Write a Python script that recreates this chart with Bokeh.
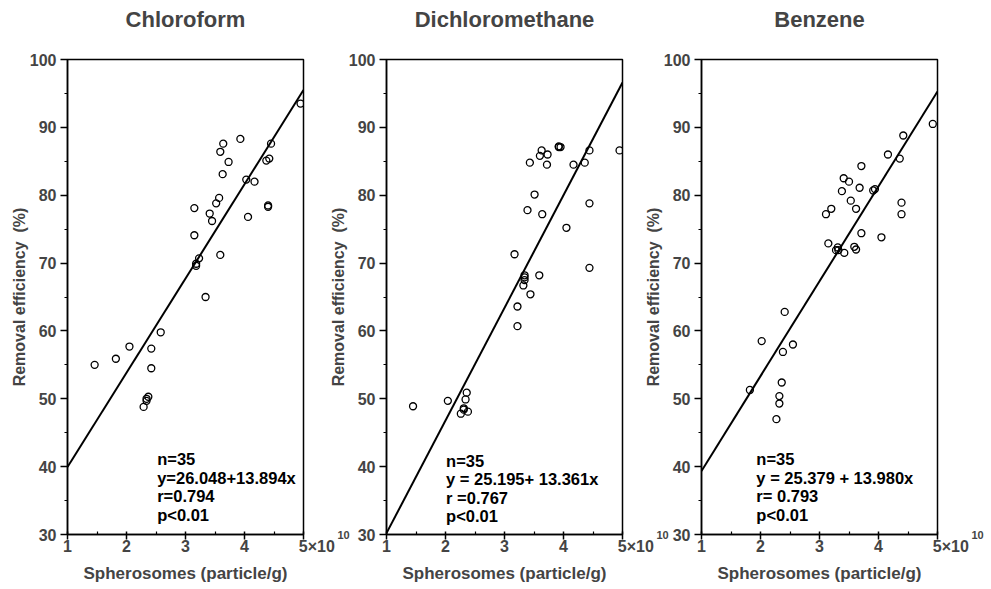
from bokeh.plotting import figure
from bokeh.layouts import row
from bokeh.models import Label, FixedTicker, Range1d, LinearAxis
from bokeh.embed import file_html
from bokeh.resources import INLINE

FONT = "Liberation Sans"

titles = ["Chloroform", "Dichloromethane", "Benzene"]

chloro_x = [1.46, 1.82, 2.05, 2.42, 2.58, 2.42, 2.37, 2.34, 2.29, 2.34,
            3.15, 3.15, 3.18, 3.18, 3.23, 3.34, 3.41, 3.45, 3.52, 3.57,
            3.59, 3.63, 3.59, 3.64, 3.73, 3.93, 4.03, 4.17, 4.06, 4.37,
            4.42, 4.45, 4.40, 4.40, 4.95]
chloro_y = [55.0, 55.9, 57.7, 57.4, 59.8, 54.5, 50.3, 49.7, 48.8, 50.0,
            78.1, 74.1, 69.6, 69.9, 70.7, 65.0, 77.3, 76.2, 78.8, 79.6,
            71.2, 83.1, 86.4, 87.6, 84.9, 88.3, 82.3, 82.0, 76.8, 85.1,
            85.4, 87.6, 78.5, 78.3, 93.5]

dcm_x = [1.45, 2.04, 2.36, 2.34, 2.26, 2.31, 2.38, 2.31,
         3.17, 3.22, 3.22, 3.34, 3.34, 3.32, 3.44, 3.59, 3.34,
         3.39, 3.64, 3.51, 3.43, 3.60, 3.63, 3.73, 3.72, 3.92, 3.95, 3.92,
         4.05, 4.17, 4.36, 4.44, 4.44, 4.44, 4.95]
dcm_y = [48.9, 49.7, 50.9, 49.9, 47.8, 48.4, 48.1, 48.6,
         71.3, 63.6, 60.7, 68.2, 67.5, 66.7, 65.4, 68.2, 67.9,
         77.8, 77.2, 80.1, 84.8, 85.8, 86.6, 86.0, 84.5, 87.1, 87.1, 87.2,
         75.2, 84.5, 84.8, 86.6, 78.8, 69.3, 86.6]

benz_x = [1.82, 2.02, 2.41, 2.55, 2.38, 2.36, 2.32, 2.32, 2.27,
          3.11, 3.20, 3.15, 3.31, 3.32, 3.28, 3.42, 3.41, 3.50, 3.38,
          3.53, 3.62, 3.59, 3.62, 3.71, 3.68, 3.71, 3.91, 3.94, 4.05,
          4.16, 4.36, 4.42, 4.39, 4.39, 4.92]
benz_y = [51.3, 58.5, 62.8, 58.0, 56.9, 52.4, 50.4, 49.3, 47.0,
          77.2, 78.0, 72.9, 72.3, 71.9, 71.9, 71.5, 82.5, 82.0, 80.6,
          79.2, 78.0, 72.4, 72.0, 84.3, 81.1, 74.4, 80.7, 80.9, 73.8,
          86.0, 85.4, 88.8, 78.9, 77.2, 90.5]

# drawn regression lines (intercept, slope)
fit_intercept = [26.05, 13.6, 25.38]
fit_slope = [13.89, 16.6, 13.98]

stats_text = [
    ["n=35", "y=26.048+13.894x", "r=0.794", "p<0.01"],
    ["n=35", "y = 25.195+ 13.361x", "r =0.767", "p<0.01"],
    ["n=35", "y = 25.379 + 13.980x", "r= 0.793", "p<0.01"],
]

x_ticks = [1, 2, 3, 4, 5]
x_minor = [1.5, 2.5, 3.5, 4.5]
x_tick_labels = ["1", "2", "3", "4", "\u00a0" * 6 + "5×10"]
exp_power = "10"
y_ticks = [30, 40, 50, 60, 70, 80, 90, 100]
y_minor = [35, 45, 55, 65, 75, 85, 95]
x_label = "Spherosomes (particle/g)"
y_label = "Removal efficiency\u00a0 (%)"

series = [(chloro_x, chloro_y), (dcm_x, dcm_y), (benz_x, benz_y)]
stats_pos = [(2.52, 41.1), (2.01, 40.9), (1.93, 41.1)]

widths = [355, 355, 357]
margins_left = [0, -36, -40]


def make_panel(i):
    xs, ys = series[i]
    w = widths[i]
    right = w - 67 - 236
    p = figure(width=w, height=585, x_range=Range1d(1, 5), y_range=Range1d(30, 100),
               output_backend="svg", toolbar_location=None,
               min_border_left=67, min_border_right=right,
               min_border_top=59, min_border_bottom=49)
    p.border_fill_color = None
    p.background_fill_color = None
    p.outline_line_color = "black"
    p.outline_line_width = 1.5
    p.xgrid.visible = False
    p.ygrid.visible = False

    p.title.text = titles[i] + "\n\u00a0"
    p.title.align = "center"
    p.title.text_font = FONT
    p.title.text_font_size = "22px"
    p.title.text_font_style = "bold"
    p.title.text_line_height = 1.1
    p.title.standoff = 0

    xa = p.xaxis[0]
    xa.ticker = FixedTicker(ticks=x_ticks, minor_ticks=x_minor)
    xa.major_label_overrides = {t: lab for t, lab in zip(x_ticks, x_tick_labels)}
    xa.major_tick_out = 5
    xa.major_tick_in = 3
    xa.minor_tick_out = 0
    xa.minor_tick_in = 3
    xa.axis_line_width = 1.5
    xa.major_tick_line_width = 1.5
    xa.minor_tick_line_width = 1.2
    xa.major_label_standoff = -2
    xa.major_label_text_font = FONT
    xa.major_label_text_font_size = "16px"
    xa.major_label_text_font_style = "bold"
    xa.axis_label = x_label
    xa.axis_label_text_font = FONT
    xa.axis_label_text_font_size = "17px"
    xa.axis_label_text_font_style = "bold"
    xa.axis_label_standoff = 6

    ya = p.yaxis[0]
    ya.ticker = FixedTicker(ticks=y_ticks, minor_ticks=y_minor)
    ya.major_tick_out = 7
    ya.major_tick_in = 0
    ya.minor_tick_out = 3
    ya.minor_tick_in = 0
    ya.axis_line_width = 1.5
    ya.major_tick_line_width = 1.5
    ya.minor_tick_line_width = 1.2
    ya.major_label_standoff = 4
    ya.major_label_text_font = FONT
    ya.major_label_text_font_size = "16px"
    ya.major_label_text_font_style = "bold"
    ya.axis_label = y_label
    ya.axis_label_text_font = FONT
    ya.axis_label_text_font_size = "16px"
    ya.axis_label_text_font_style = "bold"
    ya.axis_label_standoff = -1

    # exponent "10" of the x scale, shown as the superscript after "5×10"
    ea = LinearAxis(ticker=FixedTicker(ticks=[y_ticks[0]], minor_ticks=[]),
                    major_label_overrides={y_ticks[0]: exp_power})
    ea.axis_line_color = None
    ea.major_tick_line_color = None
    ea.minor_tick_line_color = None
    ea.major_tick_out = 0
    ea.major_tick_in = 0
    ea.major_label_standoff = 34
    ea.major_label_text_font = FONT
    ea.major_label_text_font_size = "11px"
    ea.major_label_text_font_style = "bold"
    p.add_layout(ea, "right")

    fx = [x_ticks[0], x_ticks[-1]]
    fy = [fit_intercept[i] + fit_slope[i] * v for v in fx]
    p.line(fx, fy, line_color="black", line_width=2)
    p.scatter(xs, ys, marker="circle", size=7, fill_color=None,
              line_color="black", line_width=1.3)

    sx, sy = stats_pos[i]
    for k, t in enumerate(stats_text[i]):
        p.add_layout(Label(x=sx, y=sy, text=t, y_offset=-18.5 * k,
                           text_font=FONT, text_font_size="16.5px",
                           text_font_style="bold", text_baseline="middle",
                           text_color="black"))
    if margins_left[i]:
        p.margin = (0, 0, 0, margins_left[i])
    return p


panels = [make_panel(i) for i in range(3)]
layout = row(*panels)

open("out.html", "w").write(file_html(layout, INLINE))
